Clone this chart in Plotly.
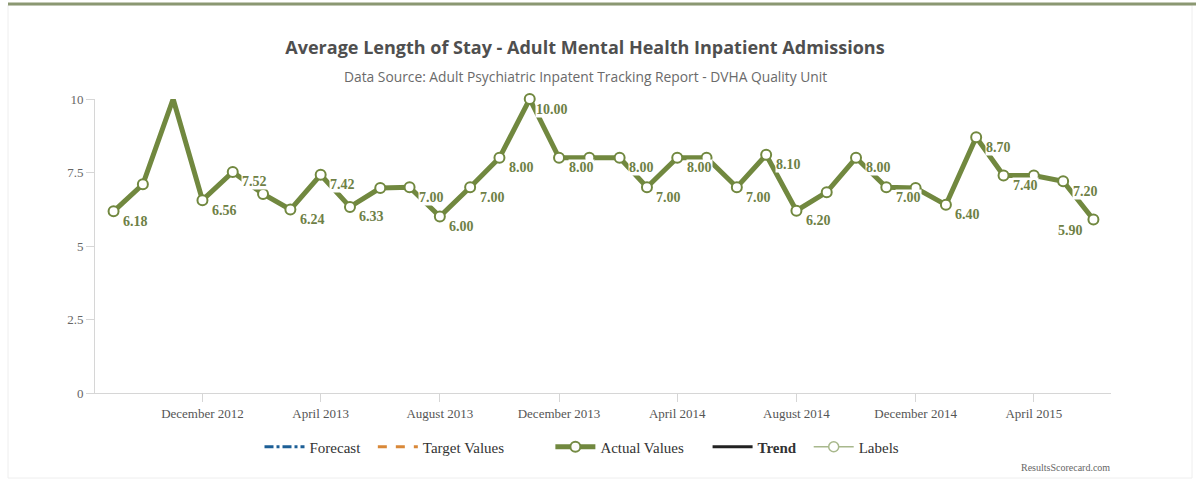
import plotly.graph_objects as go

# monthly average length of stay, Sep 2012 - Jun 2015
months = [
    "2012-09", "2012-10", "2012-11", "2012-12",
    "2013-01", "2013-02", "2013-03", "2013-04", "2013-05", "2013-06",
    "2013-07", "2013-08", "2013-09", "2013-10", "2013-11", "2013-12",
    "2014-01", "2014-02", "2014-03", "2014-04", "2014-05", "2014-06",
    "2014-07", "2014-08", "2014-09", "2014-10", "2014-11", "2014-12",
    "2015-01", "2015-02", "2015-03", "2015-04", "2015-05", "2015-06",
]
actual = [
    6.18, 7.10, 10.00, 6.56,
    7.52, 6.77, 6.24, 7.42, 6.33, 6.97,
    7.00, 6.00, 7.00, 8.00, 10.00, 8.00,
    8.00, 8.00, 7.00, 8.00, 8.00, 7.00,
    8.10, 6.20, 6.83, 8.00, 7.00, 6.97,
    6.40, 8.70, 7.40, 7.40, 7.20, 5.90,
]
# months whose data label is hidden in the original chart
unlabelled = ["2012-10", "2012-11", "2013-02", "2013-06", "2014-01",
              "2014-05", "2014-09", "2014-12", "2015-04"]
# months without a marker
no_marker = ["2012-11"]

x_dates = [m + "-01" for m in months]
marker_op = [0 if m in no_marker else 1 for m in months]

GREEN = "#71883f"
W, H = 1196, 481
L, R, T, B = 95, 85, 99, 88
pw, ph = W - L - R, H - T - B


def px_x(p):
    return (p - L) / pw


def px_y(p):
    return (H - B - p) / ph


def pad(name, n):
    # widen legend entries a bit, like the original spacing
    return name + "&nbsp;" * n


fig = go.Figure()

# legend-only series
fig.add_trace(go.Scatter(x=[None], y=[None], name=pad("Forecast", 2), mode="lines",
                         line=dict(color="#1d5f96", width=3, dash="dashdot")))
fig.add_trace(go.Scatter(x=[None], y=[None], name=pad("Target Values", 11), mode="lines",
                         line=dict(color="#d98838", width=3, dash="dash")))

fig.add_trace(go.Scatter(x=x_dates, y=actual, name=pad("Actual Values", 5), mode="lines+markers",
                         line=dict(color=GREEN, width=5),
                         marker=dict(size=10, color="white", opacity=marker_op,
                                     line=dict(color=GREEN, width=2)),
                         cliponaxis=False))
fig.add_trace(go.Scatter(x=[None], y=[None], name=pad("<b>Trend</b>", 2), mode="lines",
                         line=dict(color="#222222", width=3)))
fig.add_trace(go.Scatter(x=[None], y=[None], name="Labels", mode="lines+markers",
                         line=dict(color="#a8b88c", width=1.5),
                         marker=dict(size=10, color="white", line=dict(color="#a8b88c", width=1.5))))

# data labels
annotations = []
for i, (d, m, v) in enumerate(zip(x_dates, months, actual)):
    if m in unlabelled:
        continue
    last = i == len(months) - 1
    annotations.append(dict(
        x=d, y=v, text="<b>%.2f</b>" % v, showarrow=False,
        xshift=-23 if last else 22, yshift=-11 if last else -10,
        bgcolor="white" if not last else "rgba(0,0,0,0)",
        borderpad=0,
        font=dict(family="Liberation Serif", size=14, color="#6e8045"),
    ))

annotations.append(dict(
    text="Data Source: Adult Psychiatric Inpatent Tracking Report - DVHA Quality Unit",
    xref="paper", yref="paper", x=px_x(585), y=px_y(76), showarrow=False,
    xanchor="center", yanchor="middle",
    font=dict(family="Open Sans", size=13.8, color="#6a6a6a")))
annotations.append(dict(
    text="ResultsScorecard.com", xref="paper", yref="paper",
    x=px_x(1065), y=px_y(467), showarrow=False, xanchor="center", yanchor="middle",
    font=dict(family="Liberation Serif", size=10, color="#666666")))

fig.update_layout(
    width=W, height=H,
    margin=dict(l=L, r=R, t=T, b=B),
    paper_bgcolor="white", plot_bgcolor="white",
    title=dict(text="<b>Average Length of Stay - Adult Mental Health Inpatient Admissions</b>",
               x=585 / W, xanchor="center", y=1 - 48 / H, yanchor="middle",
               font=dict(family="Open Sans", size=18, color="#4f4f4f")),
    showlegend=True,
    legend=dict(orientation="h", x=px_x(582), xanchor="center", y=px_y(447), yanchor="middle",
                font=dict(family="Liberation Serif", size=15, color="#333333"),
                itemwidth=40, bgcolor="rgba(0,0,0,0)"),
    annotations=annotations,
    shapes=[
        dict(type="rect", xref="paper", yref="paper",
             x0=px_x(8), x1=px_x(1192), y0=px_y(478), y1=px_y(5),
             line=dict(color="#eeeeee", width=1), layer="below"),
        dict(type="line", xref="paper", yref="paper",
             x0=px_x(8), x1=px_x(1196), y0=px_y(4), y1=px_y(4),
             line=dict(color="#8b9872", width=3)),
    ],
)

fig.update_xaxes(
    type="date", range=["2012-08-13", "2015-06-19"],
    tick0="2012-12-01", dtick="M4", tickformat="%B %Y",
    showgrid=False, showline=True, linecolor="#d6d6d6", linewidth=1,
    ticks="outside", ticklen=8, tickcolor="#d6d6d6",
    tickfont=dict(family="Liberation Serif", size=13, color="#555555"),
    zeroline=False,
)
fig.update_yaxes(
    range=[0, 10], tickvals=[0, 2.5, 5, 7.5, 10],
    showgrid=False, showline=True, linecolor="#d6d6d6", linewidth=1,
    ticks="outside", ticklen=8, tickcolor="#d6d6d6",
    tickfont=dict(family="Liberation Serif", size=13, color="#666666"),
    zeroline=False,
)

fig.write_html("out.html", config={"displayModeBar": False},
               post_script="document.body.style.margin='0';")
